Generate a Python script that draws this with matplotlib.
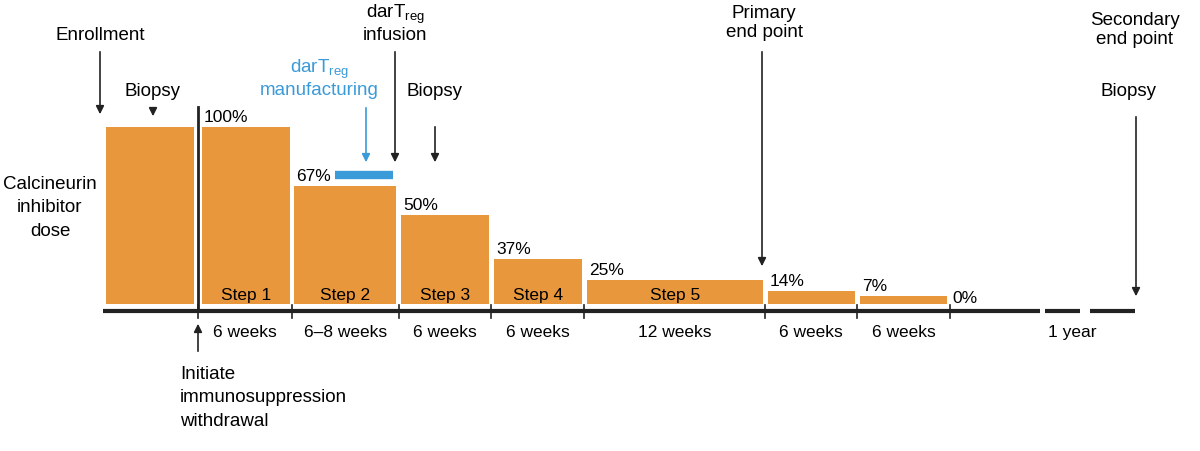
import matplotlib.pyplot as plt

plt.rcParams["font.family"] = ["Liberation Sans", "DejaVu Sans"]

# bar extents (left, right) and drawn heights
bar_left = [106, 202, 294, 401, 494, 587, 768, 860]
bar_right = [194, 290, 396, 489, 582, 763, 855, 947]
bar_height = [177, 177, 118, 89, 45, 24, 13, 8]
pct_labels = ["", "100%", "67%", "50%", "37%", "25%", "14%", "7%"]
step_labels = ["", "Step 1", "Step 2", "Step 3", "Step 4", "Step 5", "", ""]
ticks = [198, 292, 399, 491, 584, 765, 857, 950]
week_labels = ["6 weeks", "6\u20138 weeks", "6 weeks", "6 weeks", "12 weeks", "6 weeks", "6 weeks"]

orange = "#E8973C"
blue = "#3B9AD8"
base = 305
fs = 13.5

fig = plt.figure(figsize=(12, 4.52), dpi=100)
ax = fig.add_axes([0, 0, 1, 1])
ax.set_xlim(0, 1200)
ax.set_ylim(452, 0)
ax.axis("off")

for l, r, h, p, s in zip(bar_left, bar_right, bar_height, pct_labels, step_labels):
    ax.bar(l, -h, width=r - l, bottom=base, align="edge", color=orange, lw=0)
    if p:
        ax.text(l + 2, base - h - 3, p, fontsize=fs - 1, ha="left", va="bottom")
    if s:
        ax.text((l + r) / 2, 296, s, fontsize=fs - 1, ha="center", va="center")
ax.text(952, 299, "0%", fontsize=fs - 1, ha="left", va="center")

# timeline
ax.plot([103, 1040], [312, 312], color="#222", lw=3, solid_capstyle="butt")
ax.plot([1045, 1080], [312, 312], color="#222", lw=3, solid_capstyle="butt")
ax.plot([1090, 1135], [312, 312], color="#222", lw=3, solid_capstyle="butt")
for t in ticks:
    ax.plot([t, t], [306, 319], color="#222", lw=1.2)
for a, b, w in zip(ticks[:-1], ticks[1:], week_labels):
    ax.text((a + b) / 2, 333, w, fontsize=fs - 1, ha="center", va="center")
ax.text(1072, 333, "1 year", fontsize=fs - 1, ha="center", va="center")
ax.plot([198, 198], [108, 312], color="#222", lw=2)

# blue manufacturing bar
ax.plot([335, 393], [176, 176], color=blue, lw=6, solid_capstyle="butt")


def arrow(x, y0, y1, c="#222"):
    ax.annotate("", xy=(x, y1), xytext=(x, y0),
                arrowprops=dict(arrowstyle="-|>", color=c, lw=1.2, mutation_scale=12))


arrow(100, 50, 118)
arrow(153, 106, 120)
arrow(366, 106, 166, blue)
arrow(395, 50, 166)
arrow(435, 125, 166)
arrow(762, 50, 270)
arrow(1136, 115, 300)
arrow(198, 355, 322)

ax.text(100, 36, "Enrollment", fontsize=fs, ha="center", va="center")
ax.text(152, 92, "Biopsy", fontsize=fs, ha="center", va="center")
ax.text(435, 92, "Biopsy", fontsize=fs, ha="center", va="center")
ax.text(1128, 92, "Biopsy", fontsize=fs, ha="center", va="center")
ax.text(395, 23, "darT$_{\\mathregular{reg}}$\ninfusion", fontsize=fs, ha="center",
        va="center", linespacing=1.1)
ax.text(319, 78, "darT$_{\\mathregular{reg}}$\nmanufacturing", fontsize=fs, ha="center",
        va="center", color=blue, linespacing=1.1)
ax.text(764, 23, "Primary\nend point", fontsize=fs, ha="center", va="center", linespacing=1.2)
ax.text(1135, 30, "Secondary\nend point", fontsize=fs, ha="center", va="center", linespacing=1.2)
ax.text(50, 208, "Calcineurin\ninhibitor\ndose", fontsize=fs, ha="center", va="center",
        linespacing=1.5)
ax.text(180, 398, "Initiate\nimmunosuppression\nwithdrawal", fontsize=fs, ha="left",
        va="center", linespacing=1.5)

fig.savefig("out.png", dpi=100)
